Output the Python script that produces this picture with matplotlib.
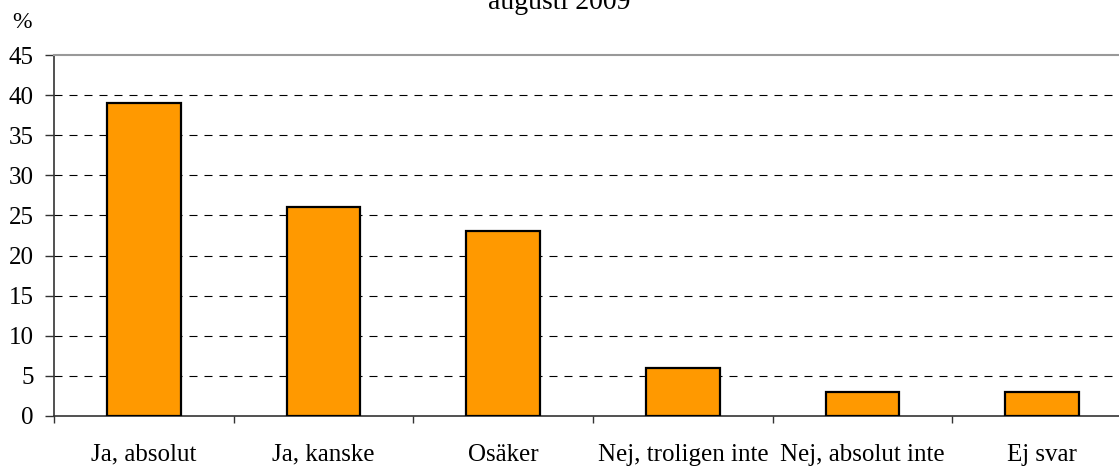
import matplotlib
matplotlib.use("Agg")
import matplotlib.pyplot as plt
import numpy as np

categories = ["Ja, absolut", "Ja, kanske", "Osäker", "Nej, troligen inte", "Nej, absolut inte", "Ej svar"]
values = [39, 26, 23, 6, 3, 3]
yticks = [0, 5, 10, 15, 20, 25, 30, 35, 40, 45]

plt.rcParams['font.family'] = ['Liberation Serif', 'DejaVu Serif']

W, H = 1119, 466
fig = plt.figure(figsize=(W/100, H/100), dpi=100)
left, right, top, bottom = 54, 1132, 55, 416
ax = fig.add_axes([left/W, (H-bottom)/H, (right-left)/W, (bottom-top)/H])

x = np.arange(len(categories))
ax.bar(x, values, width=0.41, color="#FF9900", edgecolor="black", linewidth=1.6, zorder=3)

ax.set_xlim(-0.5, len(categories)-0.5)
ax.set_ylim(0, 45)
ax.set_yticks(yticks)
ax.set_yticklabels([str(t) for t in yticks], fontsize=18)
for t in yticks[1:-1]:
    ax.axhline(t, color="black", linestyle=(0, (7.2, 6.3)), linewidth=0.8, zorder=1)

ax.set_xticks(x)
ax.set_xticklabels(categories, fontsize=18)
ax.tick_params(axis='x', which='major', length=0, pad=20)
ax.set_xticks(np.arange(len(categories)+1) - 0.5, minor=True)
ax.tick_params(axis='x', which='minor', length=5, direction='out', width=1, color='#333333')
ax.tick_params(axis='y', length=6.5, direction='out', width=1, color='#333333', pad=8)

ax.spines['top'].set_color('#999999')
ax.spines['top'].set_linewidth(1.5)
ax.spines['right'].set_visible(False)
ax.spines['left'].set_color('#333333')
ax.spines['bottom'].set_color('#333333')
ax.spines['left'].set_linewidth(1.2)
ax.spines['bottom'].set_linewidth(1.2)

fig.text(0.5, 1 - 9/H, "augusti 2009", ha='center', va='baseline', fontsize=20)
fig.text(22/W, 1 - 22/H, "%", ha='center', va='center', fontsize=17)

fig.savefig("out.png", dpi=100)
